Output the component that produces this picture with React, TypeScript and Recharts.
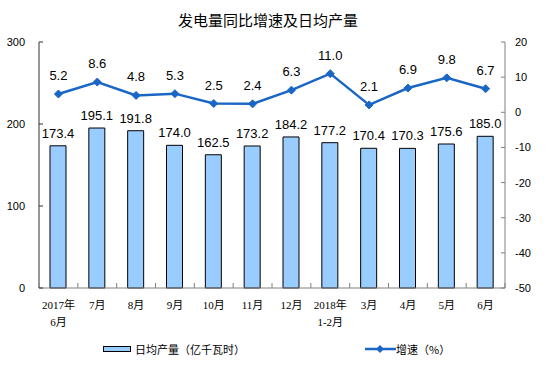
import React from 'react';
import { ComposedChart, Bar, Line, XAxis, YAxis, LabelList } from 'recharts';

const categories = ['2017年\n6月', '7月', '8月', '9月', '10月', '11月', '12月', '2018年\n1-2月', '3月', '4月', '5月', '6月'];
const dailyOutput = [173.4, 195.1, 191.8, 174.0, 162.5, 173.2, 184.2, 177.2, 170.4, 170.3, 175.6, 185.0];
const growthRate = [5.2, 8.6, 4.8, 5.3, 2.5, 2.4, 6.3, 11.0, 2.1, 6.9, 9.8, 6.7];
const leftTicks = [0, 100, 200, 300];
const rightTicks = [-50, -40, -30, -20, -10, 0, 10, 20];

const data = categories.map((c, i) => ({ name: c, output: dailyOutput[i], growth: growthRate[i] }));

const NUM_FONT = '"Liberation Sans", Arial, sans-serif';
const CJK_FONT = '"Noto Sans CJK SC", "Noto Sans", sans-serif';
const LINE_COLOR = '#1a66c6';

const XTick = (props: any) => {
  const { x, y, payload, index, visibleTicksCount, width } = props;
  const count = visibleTicksCount || categories.length;
  const band = (typeof width === 'number' ? width : 466) / count;
  const lines = String(payload.value).split('\n');
  return (
    <g>
      <line x1={x - band / 2} x2={x - band / 2} y1={y} y2={y - 5} stroke="#808080" />
      {index === count - 1 && <line x1={x + band / 2} x2={x + band / 2} y1={y} y2={y - 5} stroke="#808080" />}
      <text x={x} y={y + 21} textAnchor="middle" fontSize={11} fill="#000" fontFamily={'"Liberation Serif", "Noto Sans CJK SC", serif'}>
        {lines.map((l, i) => (
          <tspan key={i} x={x} dy={i === 0 ? 0 : 17}>{l}</tspan>
        ))}
      </text>
    </g>
  );
};

const LeftTick = (props: any) => {
  const { x, y, payload } = props;
  return (
    <g>
      <line x1={x} x2={x + 4} y1={y} y2={y} stroke="#333" />
      <text x={x - 14} y={y + 4} textAnchor="end" fontSize={11} fill="#000" fontFamily={NUM_FONT}>{payload.value}</text>
    </g>
  );
};

const RightTick = (props: any) => {
  const { x, y, payload } = props;
  return (
    <g>
      <line x1={x - 4} x2={x} y1={y} y2={y} stroke="#808080" />
      <text x={x + 10} y={y + 4} textAnchor="start" fontSize={11} fill="#000" fontFamily={NUM_FONT}>{payload.value}</text>
    </g>
  );
};

const Diamond = (props: any) => {
  const { cx, cy, index } = props;
  if (cx == null || cy == null) return <g key={index} />;
  const r = 4;
  return <path key={index} d={`M${cx},${cy - r}L${cx + r},${cy}L${cx},${cy + r}L${cx - r},${cy}Z`} fill={LINE_COLOR} stroke={LINE_COLOR} />;
};

export default function App() {
  return (
    <div style={{ position: 'absolute', left: 0, top: 0, width: 559, height: 385, background: '#fff' }}>
      <div style={{ position: 'absolute', left: 0, top: 11, width: 536, textAlign: 'center', fontSize: 15, lineHeight: '18px', fontFamily: CJK_FONT, color: '#000' }}>
        发电量同比增速及日均产量
      </div>
      <ComposedChart width={559} height={385} data={data} margin={{ top: 42, right: 0, bottom: 57, left: 0 }}>
        <XAxis dataKey="name" interval={0} tickLine={false} tickSize={0} tickMargin={0} height={40} stroke="#808080" tick={<XTick />} />
        <YAxis yAxisId="left" orientation="left" width={39} domain={[0, 300]} ticks={leftTicks} tickLine={false} tickSize={0} tickMargin={0} stroke="#333" tick={<LeftTick />} />
        <YAxis yAxisId="right" orientation="right" width={54} domain={[-50, 20]} ticks={rightTicks} tickLine={false} tickSize={0} tickMargin={0} stroke="#808080" tick={<RightTick />} />
        <Bar yAxisId="left" dataKey="output" barSize={16} fill="#99ccff" stroke="#000" strokeWidth={1} isAnimationActive={false}>
          <LabelList dataKey="output" position="top" offset={8} fontSize={13} fill="#000" fontFamily={NUM_FONT} formatter={(v: any) => Number(v).toFixed(1)} />
        </Bar>
        <Line yAxisId="right" dataKey="growth" stroke={LINE_COLOR} strokeWidth={2.5} dot={Diamond} activeDot={false} isAnimationActive={false}>
          <LabelList dataKey="growth" position="top" offset={14} fontSize={13} fill="#000" fontFamily={NUM_FONT} formatter={(v: any) => Number(v).toFixed(1)} />
        </Line>
      </ComposedChart>
      <div style={{ position: 'absolute', left: 103, top: 346, width: 26, height: 4, background: '#99ccff', border: '1px solid #000' }} />
      <div style={{ position: 'absolute', left: 135, top: 341, fontSize: 11, lineHeight: '16px', fontFamily: CJK_FONT, color: '#000', whiteSpace: 'nowrap' }}>
        日均产量（亿千瓦时）
      </div>
      <svg style={{ position: 'absolute', left: 365, top: 343 }} width={31} height={12}>
        <line x1={0} x2={31} y1={6} y2={6} stroke={LINE_COLOR} strokeWidth={2.5} />
        <path d="M15,2L19,6L15,10L11,6Z" fill={LINE_COLOR} />
      </svg>
      <div style={{ position: 'absolute', left: 396, top: 341, fontSize: 11, lineHeight: '16px', fontFamily: CJK_FONT, color: '#000', whiteSpace: 'nowrap' }}>
        增速（%）
      </div>
    </div>
  );
}
